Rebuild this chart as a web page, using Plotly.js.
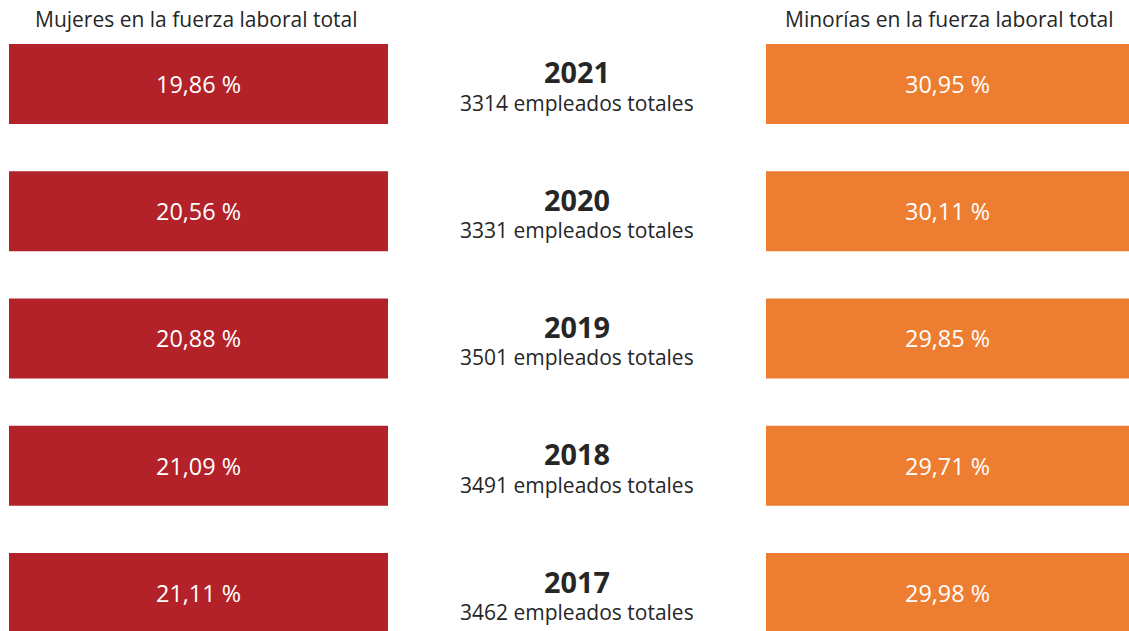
<!DOCTYPE html>
<html>
<head>
<meta charset="utf-8">
<script src="https://cdn.plot.ly/plotly-3.0.1.min.js"></script>
<style>
  html, body { margin: 0; padding: 0; background: #fff; }
  #grafico { width: 1129px; height: 631px; }
</style>
</head>
<body>
<div id="grafico"></div>
<script>
const anios = ['2021', '2020', '2019', '2018', '2017'];
const mujeres = [19.86, 20.56, 20.88, 21.09, 21.11];
const minorias = [30.95, 30.11, 29.85, 29.71, 29.98];
const empleados = [3314, 3331, 3501, 3491, 3462];

const tituloMujeres = 'Mujeres en la fuerza laboral total';
const tituloMinorias = 'Minorías en la fuerza laboral total';

const fuente = '"Open Sans", "DejaVu Sans", sans-serif';
const rojo = '#B22228';
const naranja = '#ED7D31';
const gris = '#262626';

function formatoPorcentaje(v) {
    return v.toFixed(2).replace('.', ',') + ' %';
}

// cada caja ocupa todo el ancho de su eje, el valor va como texto
function caja(valores, color, ejeX) {
    return {
        type: 'bar',
        orientation: 'h',
        y: anios,
        x: anios.map(() => 1),
        xaxis: ejeX,
        yaxis: 'y',
        width: 0.629,
        text: valores.map(formatoPorcentaje),
        textposition: 'inside',
        insidetextanchor: 'middle',
        textangle: 0,
        constraintext: 'none',
        textfont: { family: fuente, size: 23.4, color: '#ffffff' },
        marker: { color: color },
        hoverinfo: 'skip'
    };
}

const data = [
    caja(mujeres, rojo, 'x'),
    caja(minorias, naranja, 'x2')
];

const anotaciones = [];
anios.forEach((anio, i) => {
    anotaciones.push({
        xref: 'paper', yref: 'y',
        x: 577 / 1129, y: i,
        xanchor: 'center', yanchor: 'middle',
        text: '<b>' + anio + '</b>',
        showarrow: false,
        yshift: 12,
        font: { family: fuente, size: 28.8, color: gris }
    });
    anotaciones.push({
        xref: 'paper', yref: 'y',
        x: 577 / 1129, y: i,
        xanchor: 'center', yanchor: 'middle',
        text: empleados[i] + ' empleados totales',
        showarrow: false,
        yshift: -19,
        font: { family: fuente, size: 21, color: gris }
    });
});

anotaciones.push({
    xref: 'paper', yref: 'paper',
    x: 196 / 1129, y: 1 - 19 / 631,
    xanchor: 'center', yanchor: 'middle',
    text: tituloMujeres,
    showarrow: false,
    font: { family: fuente, size: 21, color: gris }
});
anotaciones.push({
    xref: 'paper', yref: 'paper',
    x: 949 / 1129, y: 1 - 19 / 631,
    xanchor: 'center', yanchor: 'middle',
    text: tituloMinorias,
    showarrow: false,
    font: { family: fuente, size: 21, color: gris }
});

const ejeOculto = {
    range: [0, 1],
    showgrid: false, zeroline: false, showticklabels: false,
    showline: false, ticks: '', fixedrange: true
};

const layout = {
    width: 1129,
    height: 631,
    margin: { l: 0, r: 0, t: 0, b: 0 },
    paper_bgcolor: '#ffffff',
    plot_bgcolor: '#ffffff',
    showlegend: false,
    xaxis: Object.assign({}, ejeOculto, { domain: [9 / 1129, 388 / 1129] }),
    xaxis2: Object.assign({}, ejeOculto, { domain: [766 / 1129, 1], anchor: 'y' }),
    yaxis: {
        type: 'category',
        range: [4.2986, -0.660],
        showgrid: false, zeroline: false, showticklabels: false,
        showline: false, ticks: '', fixedrange: true
    },
    annotations: anotaciones
};

Plotly.newPlot('grafico', data, layout, { displayModeBar: false, staticPlot: true });
</script>
</body>
</html>
